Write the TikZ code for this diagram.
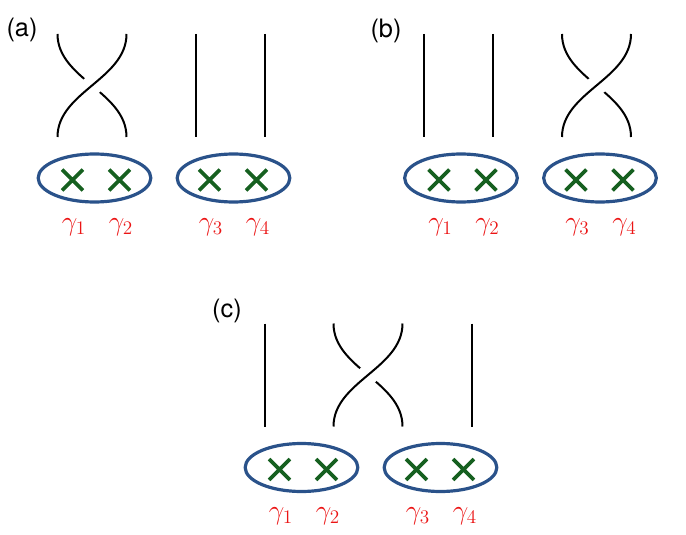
\documentclass[tikz,border=0pt]{standalone}
\usepackage{fontspec}
\newfontfamily\panelfont{TeX Gyre Heros}
\usetikzlibrary{positioning, shapes.geometric, shapes.misc}

\definecolor{ringblue}{RGB}{42,82,138}
\definecolor{markgreen}{RGB}{22,96,32}
\definecolor{labelred}{RGB}{235,20,20}

\begin{document}
\begin{tikzpicture}[
  x=0.75pt, y=-0.75pt,
  strand/.style={line width=1.5pt},
  overstrand/.style={strand, preaction={draw=white, line width=15pt}},
  ring/.style={ellipse, draw=ringblue, line width=2.4pt, minimum width=84.5pt, minimum height=36pt, inner sep=0pt},
  xmark/.style={cross out, draw=markgreen, line width=2.7pt, minimum size=13pt, inner sep=0pt},
  gam/.style={text=labelred, font=\fontsize{21}{25}\selectfont, inner sep=0pt},
  panel/.style={font=\panelfont\fontsize{19}{22}\selectfont, inner sep=0pt}
]
  \useasboundingbox (0,0) rectangle (686,535);

  % one panel per row of the list: name / origin / braided pair / label position
  \foreach \p/\px/\py/\k/\lx/\ly in {a/94.5/178/1/22/30, b/461/178/3/386/31, c/301.5/467.5/2/227/311} {
    \node[panel] (\p-lab) at (\lx,\ly) {(\p)};
    \begin{scope}[shift={(\px,\py)}]
      % the two pairs of modes
      \node[ring] (\p-r1) at (0,0) {};
      \node[ring] (\p-r2) at (139,0) {};
      \foreach \j/\xx in {1/-22,2/25,3/115,4/162} {
        \node[xmark] (\p-x\j) at (\xx,2) {};
        \node[gam] (\p-g\j) at (\xx+1.5,49) {$\gamma_\j$};
      }
      % world lines above the modes
      \foreach \j/\xx in {1/-37,2/32,3/101,4/170} {
        \coordinate (\p-t\j) at (\xx,-144);
        \coordinate (\p-b\j) at (\xx,-41);
        \pgfmathtruncatemacro\d{\j-\k}
        \ifnum\d<0 \draw[strand] (\p-t\j) -- (\p-b\j);
        \else\ifnum\d>1 \draw[strand] (\p-t\j) -- (\p-b\j); \fi\fi
      }
      % exchange of the braided pair
      \pgfmathtruncatemacro\kk{\k+1}
      \draw[strand] (\p-t\k) .. controls +(0,45) and +(0,-45) .. (\p-b\kk);
      \draw[overstrand] (\p-t\kk) .. controls +(0,45) and +(0,-45) .. (\p-b\k);
    \end{scope}
  }
\end{tikzpicture}
\end{document}
